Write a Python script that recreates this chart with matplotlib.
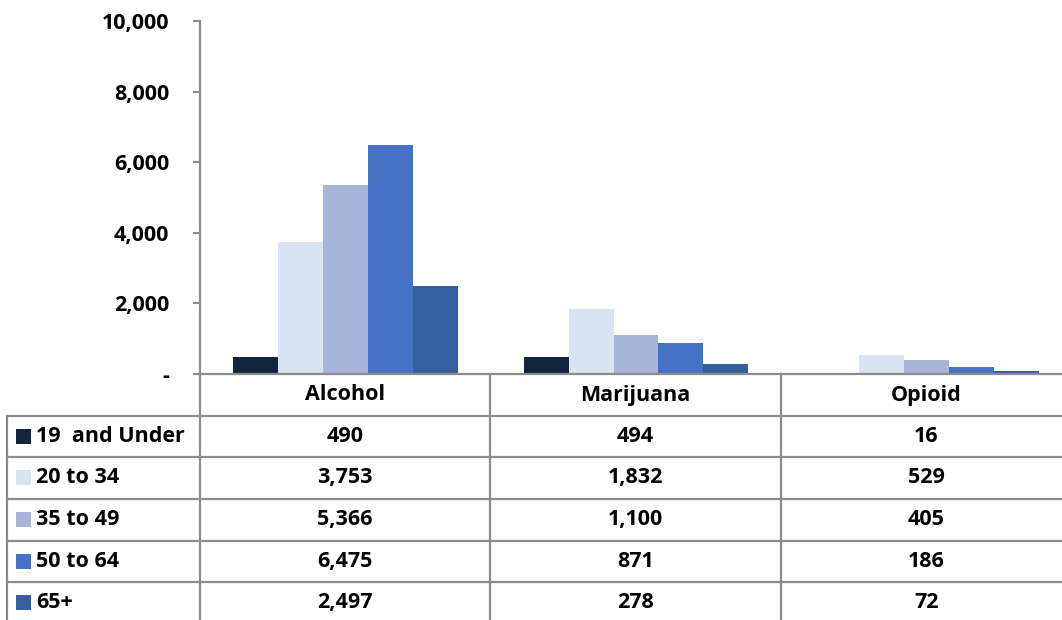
import matplotlib
matplotlib.use("Agg")
import matplotlib.pyplot as plt
from matplotlib.lines import Line2D
from matplotlib.patches import Rectangle

categories = ["Alcohol", "Marijuana", "Opioid"]
series_names = ["19  and Under", "20 to 34", "35 to 49", "50 to 64", "65+"]
values = {
    "19  and Under": [490, 494, 16],
    "20 to 34": [3753, 1832, 529],
    "35 to 49": [5366, 1100, 405],
    "50 to 64": [6475, 871, 186],
    "65+": [2497, 278, 72],
}
colors = ["#13243F", "#DAE3F3", "#A8B5DA", "#4472C4", "#365FA2"]
yticks = [0, 2000, 4000, 6000, 8000, 10000]
ytick_labels = ["-", "2,000", "4,000", "6,000", "8,000", "10,000"]

W, H = 1062, 620
FONT = "Open Sans"
FS = 15.5
GRAY = "#8C8C8C"

fig = plt.figure(figsize=(W / 100, H / 100), dpi=100)

def fx(px):
    return px / W

def fy(py):
    return 1 - py / H

# plot area in pixels
x0, x1 = 200, 1072
ytop, ybot = 21, 374
ax = fig.add_axes([fx(x0), fy(ybot), fx(x1) - fx(x0), (ybot - ytop) / H])
ax.set_xlim(0, 3)
ax.set_ylim(0, 10000)

bw = 45 / 290.7
for j, name in enumerate(series_names):
    xs = [i + 0.5 + (j - 2) * bw for i in range(len(categories))]
    ax.bar(xs, values[name], width=bw, color=colors[j], edgecolor="none", zorder=2)

ax.set_yticks(yticks)
ax.set_yticklabels(ytick_labels, fontfamily=FONT, fontweight="bold", fontsize=FS)
ax.tick_params(axis="y", direction="out", length=5, width=1.5, color=GRAY, pad=17)
ax.set_xticks([])
for s in ["top", "right"]:
    ax.spines[s].set_visible(False)
for s in ["left", "bottom"]:
    ax.spines[s].set_color(GRAY)
    ax.spines[s].set_linewidth(1.6)
ax.patch.set_alpha(0)

# table lines
def hline(py, xa, xb):
    fig.add_artist(Line2D([fx(xa), fx(xb)], [fy(py), fy(py)], color=GRAY, lw=1.6))

def vline(px, ya, yb):
    fig.add_artist(Line2D([fx(px), fx(px)], [fy(ya), fy(yb)], color=GRAY, lw=1.6))

row_lines = [416, 457, 499, 541, 582, 623]
for py in row_lines:
    hline(py, 7, 1072)
vline(7, 416, 623)
for px in [200, 490, 781]:
    vline(px, 374, 623)

col_edges = [200, 490, 781, 1072]
col_centers = [(col_edges[i] + col_edges[i + 1]) / 2 for i in range(3)]

# header
for c, cx in zip(categories, col_centers):
    fig.text(fx(cx), fy(395), c, ha="center", va="center",
             fontfamily=FONT, fontweight="bold", fontsize=FS)

row_tops = [416, 457, 499, 541, 582]
for j, name in enumerate(series_names):
    cy = row_tops[j] + 20.5
    fig.add_artist(Rectangle((fx(16), fy(cy + 7.5)), 15 / W, 15 / H,
                             facecolor=colors[j], edgecolor="none",
                             transform=fig.transFigure))
    fig.text(fx(36), fy(cy), name, ha="left", va="center",
             fontfamily=FONT, fontweight="bold", fontsize=FS)
    for i, cx in enumerate(col_centers):
        fig.text(fx(cx), fy(cy), f"{values[name][i]:,}", ha="center", va="center",
                 fontfamily=FONT, fontweight="bold", fontsize=FS)

fig.savefig("out.png", dpi=100)
